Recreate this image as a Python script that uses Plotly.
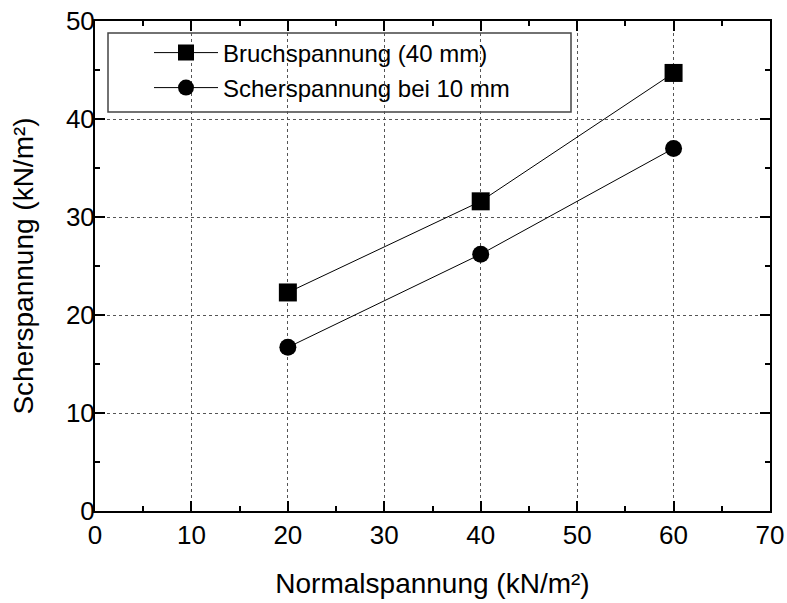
import plotly.graph_objects as go

normal = [20, 40, 60]
bruch = [22.3, 31.6, 44.7]
scher = [16.7, 26.2, 37.0]
name_bruch = "Bruchspannung (40 mm)"
name_scher = "Scherspannung bei 10 mm"

W, H = 787, 603
L, R, T, B = 95, 17, 21, 92
pw, ph = W - L - R, H - T - B

def px2x(px):
    return (px - L) / pw

def py2y(py):
    return (H - B - py) / ph

fig = go.Figure()
fig.add_trace(go.Scatter(x=normal, y=bruch, mode="lines+markers", name=name_bruch,
                         line=dict(color="black", width=1),
                         marker=dict(symbol="square", size=18, color="black"),
                         legend="legend"))
fig.add_trace(go.Scatter(x=normal, y=scher, mode="lines+markers", name=name_scher,
                         line=dict(color="black", width=1),
                         marker=dict(symbol="circle", size=17, color="black"),
                         legend="legend2"))

font = "Liberation Sans, Arial, sans-serif"
axis_common = dict(
    showline=True, linecolor="black", linewidth=2, mirror="ticks",
    ticks="inside", ticklen=10, tickwidth=2, tickcolor="black",
    showgrid=True, gridcolor="#555555", gridwidth=1, griddash="dot",
    zeroline=False, automargin=False,
    tickfont=dict(family=font, size=26, color="black"),
    title_font=dict(family=font, size=28, color="black"),
)

fig.update_xaxes(range=[0, 70], dtick=10, tick0=0,
                 minor=dict(ticks="inside", ticklen=5, dtick=5, tickwidth=2, tickcolor="black", showgrid=False),
                 title_text="Normalspannung (kN/m²)", title_standoff=24, **axis_common)
fig.update_yaxes(range=[0, 50], dtick=10, tick0=0, ticklabelstandoff=-7,
                 minor=dict(ticks="inside", ticklen=5, dtick=5, tickwidth=2, tickcolor="black", showgrid=False),
                 title_text="Scherspannung (kN/m²)", title_standoff=24, **axis_common)

leg_common = dict(bgcolor="rgba(0,0,0,0)", borderwidth=0, font=dict(family=font, size=24, color="black"),
                  xanchor="left", yanchor="middle", itemwidth=64)
fig.update_layout(
    width=W, height=H, margin=dict(l=L, r=R, t=T, b=B),
    paper_bgcolor="white", plot_bgcolor="white", showlegend=True,
    legend=dict(x=px2x(149), y=py2y(53), **leg_common),
    legend2=dict(x=px2x(149), y=py2y(88), **leg_common),
    shapes=[dict(type="rect", xref="paper", yref="paper",
                 x0=px2x(108), x1=px2x(571), y0=py2y(112), y1=py2y(33),
                 line=dict(color="#444444", width=1.5), fillcolor="white", layer="below")],
)

fig.write_html("out.html", config={"displayModeBar": False},
               post_script="document.body.style.margin='0';")
